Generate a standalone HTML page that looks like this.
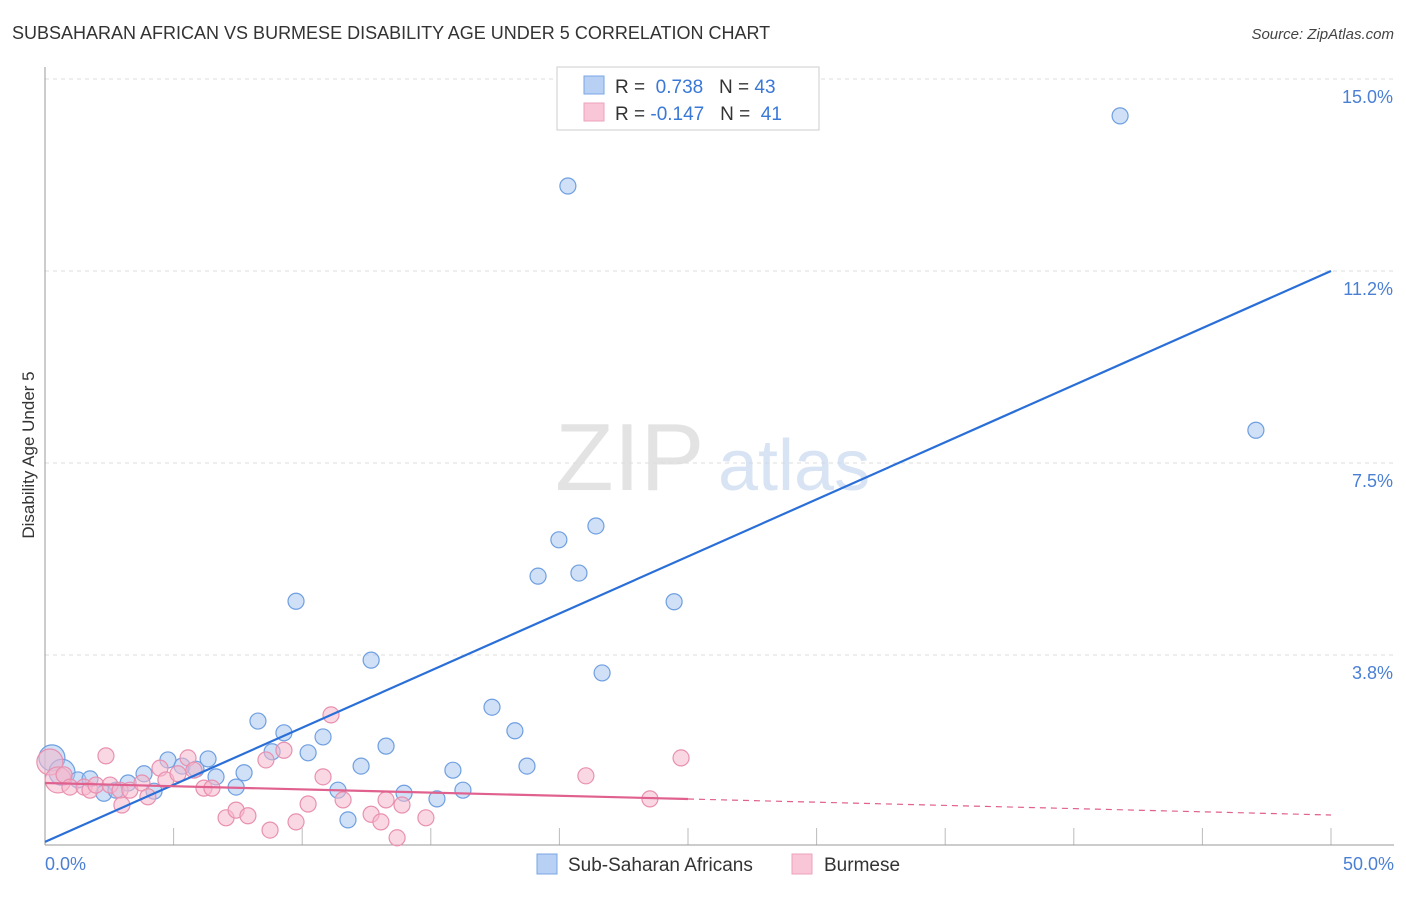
<!DOCTYPE html>
<html><head><meta charset="utf-8"><style>
body{margin:0;background:#fff;font-family:"Liberation Sans",sans-serif;}
svg text{font-family:"Liberation Sans",sans-serif;}
</style></head><body>
<svg id="chart" width="1406" height="892" xmlns="http://www.w3.org/2000/svg">
<text x="12" y="39" font-size="18" fill="#333">SUBSAHARAN AFRICAN VS BURMESE DISABILITY AGE UNDER 5 CORRELATION CHART</text>
<text x="1394" y="39" font-size="15" fill="#444" text-anchor="end" font-style="italic">Source: ZipAtlas.com</text>
<g id="grid"></g>
<text x="555" y="490" font-size="96" fill="#ddd" font-family="Liberation Serif" opacity="0.8">ZIP</text>
<text x="718" y="490" font-size="72" fill="#c8d8f0" opacity="0.7">atlas</text>
<line x1="45" y1="67" x2="45" y2="845" stroke="#999"/>
<line x1="45" y1="845" x2="1394" y2="845" stroke="#999"/>
<text transform="translate(34,455) rotate(-90)" font-size="17" fill="#333" text-anchor="middle">Disability Age Under 5</text>
<text x="45" y="870" font-size="18" fill="#4a7fd4">0.0%</text>
<text x="1394" y="870" font-size="18" fill="#4a7fd4" text-anchor="end">50.0%</text>
<g id="marks"></g>
<g>
<rect x="557" y="67" width="262" height="63" fill="#fff" stroke="#ccc"/>
<rect x="584" y="76" width="20" height="18" fill="#b8d0f4" stroke="#7aa6e4"/>
<rect x="584" y="103" width="20" height="18" fill="#f8c6d6" stroke="#eea0bc"/>
<text x="615" y="93" font-size="19" fill="#333">R = <tspan fill="#3a78d8">&#160;0.738</tspan>&#160;&#160;&#160;N = <tspan fill="#3a78d8">43</tspan></text>
<text x="615" y="120" font-size="19" fill="#333">R = <tspan fill="#3a78d8">-0.147</tspan>&#160;&#160;&#160;N = <tspan fill="#3a78d8">&#160;41</tspan></text>
</g>
<g>
<rect x="537" y="854" width="20" height="20" fill="#b8d0f4" stroke="#7aa6e4"/>
<text x="568" y="871" font-size="19" fill="#333">Sub-Saharan Africans</text>
<rect x="792" y="854" width="20" height="20" fill="#f8c6d6" stroke="#eea0bc"/>
<text x="824" y="871" font-size="19" fill="#333">Burmese</text>
</g>
</svg>
<script>
const yTicks=[3.75,7.5,11.25,15];
const yTickLabels=["3.8%","7.5%","11.2%","15.0%"];
const xTicks=[0,5,10,15,20,25,30,35,40,45,50];
const blueX=[0.27,0.66,1.28,1.75,2.29,2.76,3.23,3.85,4.24,4.78,5.33,5.87,6.34,6.65,7.43,7.74,8.28,8.83,9.29,9.76,10.23,10.81,11.39,11.78,12.29,12.68,13.26,13.96,15.24,15.86,16.25,17.38,18.27,18.74,19.17,19.98,20.33,20.76,21.42,21.66,24.46,41.80,47.08];
const blueY=[1.74,1.46,1.31,1.33,1.05,1.11,1.25,1.43,1.09,1.70,1.58,1.52,1.72,1.37,1.17,1.45,2.46,1.86,2.23,4.80,1.84,2.15,1.11,0.53,1.58,3.65,1.97,1.05,0.94,1.50,1.11,2.73,2.27,1.58,5.29,6.00,12.91,5.35,6.27,3.40,4.79,14.28,8.14];
const pinkX=[0.19,0.51,0.74,0.97,1.52,1.75,1.98,2.37,2.53,2.92,2.99,3.30,3.77,4.00,4.47,4.70,5.17,5.56,5.79,6.18,6.49,7.04,7.43,7.89,8.59,8.75,9.29,9.76,10.23,10.81,11.12,11.59,12.68,13.06,13.26,13.69,13.88,14.81,21.03,23.52,24.73];
const pinkY=[1.66,1.31,1.41,1.17,1.17,1.11,1.21,1.78,1.21,1.11,0.82,1.11,1.25,0.98,1.54,1.31,1.43,1.74,1.50,1.15,1.15,0.57,0.72,0.61,1.70,0.33,1.89,0.49,0.84,1.37,2.58,0.92,0.64,0.49,0.92,0.18,0.82,0.57,1.39,0.94,1.74];
const blueTrend=[0.1,11.25];
const pinkTrend=[1.25,0.625];
const pinkSolidEnd=25;
const NS="http://www.w3.org/2000/svg";
function sx(v){return 45+v*25.72;}
function sy(v){return 847-v*51.2;}
function mk(t,a,p){const e=document.createElementNS(NS,t);for(const k in a)e.setAttribute(k,a[k]);(p||document.getElementById('marks')).appendChild(e);return e;}
const grid=document.getElementById('grid');
yTicks.forEach((v,i)=>{
 const l=mk('line',{x1:45,x2:1394,y1:sy(v),y2:sy(v),stroke:'#ddd','stroke-dasharray':'4,4'},grid);
 
 
 const t=mk('text',{x:1393,y:sy(v)+24,'font-size':18,fill:'#4a7fd4','text-anchor':'end'},grid);
 t.textContent=yTickLabels[i];
 
 
});
{const l=mk('line',{x1:45,x2:1394,y1:79,y2:79,stroke:'#ddd','stroke-dasharray':'4,4'},grid);}
xTicks.forEach(v=>{
 const l=mk('line',{x1:sx(v),x2:sx(v),y1:828,y2:845,stroke:'#bbb'},grid);
 
 
});
blueX.forEach((x,i)=>{
 const big=i<2;
 const c=mk('circle',{cx:sx(x),cy:sy(blueY[i]),r:big?13:8,fill:'#a8c6f0','fill-opacity':0.55,stroke:'#6f9fe0','stroke-width':1.2});
 
 
});
pinkX.forEach((x,i)=>{
 const big=i<2;
 const c=mk('circle',{cx:sx(x),cy:sy(pinkY[i]),r:big?13:8,fill:'#f6b8cc','fill-opacity':0.55,stroke:'#e890b0','stroke-width':1.2});
 
 
});
const bl=mk('line',{x1:sx(0),y1:sy(blueTrend[0]),x2:sx(50),y2:sy(blueTrend[1]),stroke:'#2a6fd8','stroke-width':2.2});


const pAt=v=>pinkTrend[0]+(pinkTrend[1]-pinkTrend[0])*v/50;
const pl=mk('line',{x1:sx(0),y1:sy(pinkTrend[0]),x2:sx(pinkSolidEnd),y2:sy(pAt(pinkSolidEnd)),stroke:'#e0608e','stroke-width':2.2});


const pd=mk('line',{x1:sx(pinkSolidEnd),y1:sy(pAt(pinkSolidEnd)),x2:sx(50),y2:sy(pinkTrend[1]),stroke:'#e0608e','stroke-width':1.2,'stroke-dasharray':'6,5'});


</script>
</body></html>
